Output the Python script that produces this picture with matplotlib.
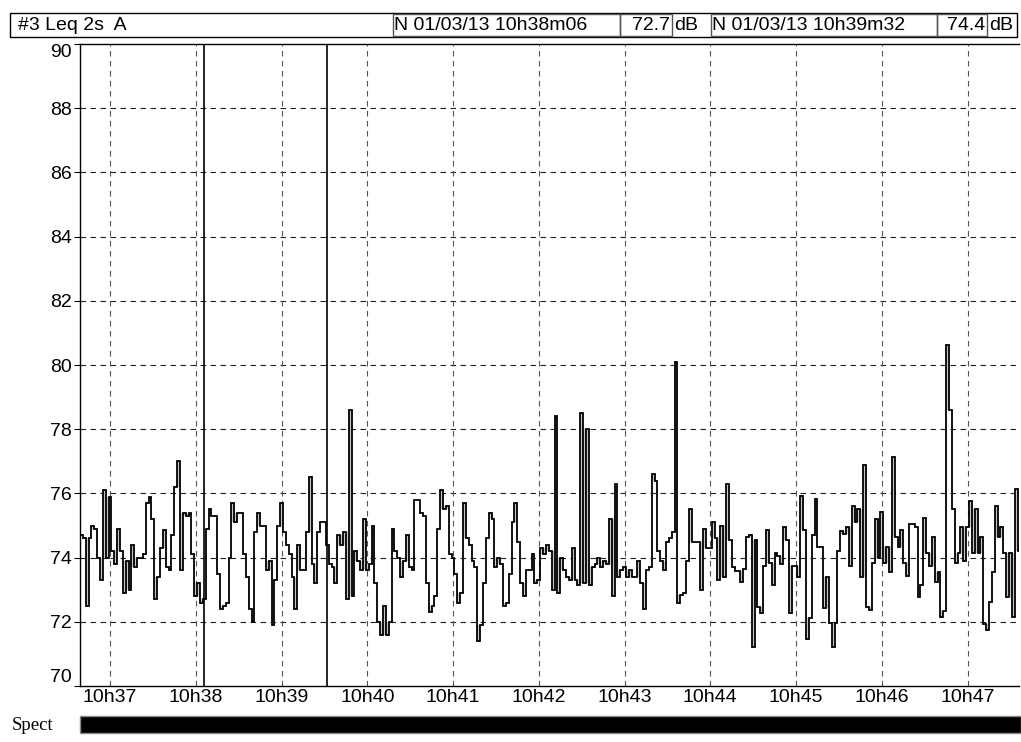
import matplotlib
matplotlib.use("Agg")
import matplotlib.pyplot as plt
from matplotlib.patches import Rectangle
import numpy as np

# Leq 2s A values in dB, one every 2 s in six stretches
leq_part1 = [74.7, 74.6, 72.5, 74.6, 75.0, 74.9, 74.0, 73.3, 76.1, 74.0,
             75.9, 74.2, 73.8, 74.9, 74.2, 72.9, 73.9, 73.0, 74.4, 73.7,
             74.0, 74.0, 74.1, 75.7, 75.9, 75.2, 72.7, 73.4, 74.3, 74.85,
             73.7, 73.6, 74.7, 76.2, 77.0, 73.6, 75.4, 75.3, 75.4, 74.1,
             72.8, 73.2, 72.6, 72.7, 74.9, 75.5, 75.3, 75.3, 73.5, 72.4,
             72.5, 72.6, 74.0, 75.7, 75.1, 75.4]
leq_part2 = [75.4, 74.1, 73.4, 72.4, 72.0, 74.8, 75.4, 75.0, 75.0, 73.6,
             73.9, 71.9, 73.3, 75.0, 75.7, 74.8, 74.4, 74.1, 73.4, 72.4,
             74.4, 73.6, 73.6, 74.8, 76.5, 73.8, 73.2, 74.8, 75.1, 75.1,
             74.4, 73.8, 73.7, 73.2, 74.7, 74.4, 74.8, 72.7, 78.6, 72.8,
             74.2, 73.9, 73.6, 75.2, 73.6, 73.8, 75.0, 73.2, 72.0, 71.6,
             72.5, 71.6, 72.0, 74.9, 74.2, 74.0]
leq_part3 = [73.4, 73.9, 74.7, 73.7, 73.6, 75.8, 75.8, 75.4, 75.3, 73.2,
             72.3, 72.5, 72.8, 74.9, 76.1, 75.5, 75.6, 74.1, 74.0, 73.5,
             72.6, 72.9, 75.7, 74.6, 74.4, 73.9, 73.7, 71.4, 71.9, 73.2,
             74.6, 75.4, 75.2, 73.7, 74.0, 73.8, 72.5, 72.6, 73.5, 75.1,
             75.7, 74.5, 73.2, 72.8, 73.6, 73.6, 74.1, 73.2, 73.3, 74.3,
             74.1, 74.4, 74.2, 73.0]
leq_part4 = [78.4, 72.9, 74.0, 73.6, 73.4, 73.3, 74.3, 73.3, 73.15, 78.5,
             73.2, 78.0, 73.15, 73.7, 73.8, 74.0, 73.7, 73.9, 73.8, 75.2,
             72.8, 76.3, 73.4, 73.6, 73.7, 73.4, 73.6, 73.4, 73.4, 73.9,
             73.2, 72.4, 73.6, 73.7, 76.6, 76.4, 74.2, 73.9, 73.6, 74.5,
             74.6, 74.8, 80.1, 72.6, 72.85, 72.9, 73.9, 75.5, 74.5, 74.5,
             74.5, 73.0, 74.9, 74.3, 74.3, 75.1, 74.6]
leq_part5 = [73.3, 75.0, 73.4, 76.3, 74.55, 73.7, 73.57, 73.57, 73.24, 73.65,
             74.63, 74.7, 71.23, 74.55, 72.46, 72.26, 73.73, 74.85, 73.82, 73.15,
             74.13, 74.04, 73.8, 74.94, 74.55, 72.26, 73.75, 73.73, 73.41, 75.92,
             74.85, 71.45, 72.12, 74.7, 75.84, 74.32, 74.32, 72.43, 73.41, 71.97,
             71.23, 71.97, 74.22, 74.84, 74.73, 74.94, 73.73, 75.6, 75.11, 75.5,
             73.41, 76.9, 72.46, 72.36, 73.82, 75.2, 74.0]
leq_part6 = [75.43, 73.83, 74.32, 73.56, 77.12, 74.63, 74.32, 74.86, 73.83, 73.42,
             75.05, 75.05, 74.94, 72.77, 73.15, 75.22, 74.15, 73.73, 74.63, 73.23,
             73.54, 72.15, 72.35, 80.62, 78.6, 75.51, 73.83, 74.15, 74.94, 73.9,
             74.94, 75.75, 74.15, 75.51, 74.15, 74.63, 71.94, 71.73, 72.61, 73.56,
             75.62, 74.63, 74.94, 74.15, 72.77, 74.15, 72.15, 76.13, 74.2]

leq = np.array(leq_part1 + leq_part2 + leq_part3 + leq_part4 + leq_part5 + leq_part6)

# time in seconds after 10h00
start_s = 36 * 60 + 39
step_s = 2
end_s = 47 * 60 + 36
minutes = list(range(37, 48))
minute_labels = ["10h%d" % m for m in minutes]
y_ticks = list(range(70, 91, 2))
cursor_times = [38 * 60 + 6, 39 * 60 + 32]
cursor_texts = ["N 01/03/13 10h38m06", "N 01/03/13 10h39m32"]
cursor_values = ["72.7", "74.4"]

plt.rcParams['font.family'] = ['Liberation Sans Narrow', 'Liberation Sans', 'DejaVu Sans']

W, H = 1021, 742
fig = plt.figure(figsize=(W / 100, H / 100), dpi=100)


def fx(x):
    return x / W


def fy(y):
    return 1 - y / H


ax = fig.add_axes([fx(80), fy(686), fx(1019) - fx(80), fy(44) - fy(686)])

edges = start_s + step_s * np.arange(len(leq) + 1)

# single-sample spikes show up filled grey in the original
prev_v = np.r_[leq[0], leq[:-1]]
next_v = np.r_[leq[1:], leq[-1]]
peak = (leq > prev_v) & (leq > next_v)
dip = (leq < prev_v) & (leq < next_v)
lo = np.where(peak, np.maximum(prev_v, next_v), leq)
hi = np.where(dip, np.minimum(prev_v, next_v), leq)
sel = peak | dip
ax.bar(edges[:-1][sel], (hi - lo)[sel], bottom=lo[sel], width=step_s,
       align='edge', color='#c8c8c8', linewidth=0, zorder=2)

ax.stairs(leq, edges, color='black', linewidth=1.3, baseline=None, zorder=3)

for t in cursor_times:
    ax.axvline(t, color='black', linewidth=1.2, zorder=4)

ax.set_xlim(start_s, end_s)
ax.set_ylim(70, 90)
ax.set_yticks(y_ticks)
ax.set_xticks([m * 60 for m in minutes])
ax.set_xticklabels(minute_labels)
ax.tick_params(axis='x', length=0, pad=2, labelsize=14)
ax.tick_params(axis='y', length=4, width=0.8, pad=2, labelsize=14)
ylabels = ax.get_yticklabels()
ylabels[0].set_verticalalignment('bottom')
ylabels[-1].set_verticalalignment('top')

for y in y_ticks[1:-1]:
    ax.axhline(y, color='#222222', linewidth=0.8, linestyle=(0, (5, 4)), zorder=1)
for m in minutes:
    ax.axvline(m * 60, color='#555555', linewidth=0.8, linestyle=(0, (5, 4)), zorder=1)

ax.spines['right'].set_visible(False)
for s in ['left', 'bottom', 'top']:
    ax.spines[s].set_linewidth(1.0)

# header bar with the cursor readouts
fig.patches.append(Rectangle((fx(10), fy(37)), fx(1017) - fx(10), fy(13) - fy(37),
                             transform=fig.transFigure, fill=False,
                             edgecolor='black', linewidth=1.0))
fig.text(fx(18), fy(25), "#3 Leq 2s  A", fontsize=14, va='center', ha='left')
box_x = [(393, 620, 672), (711, 937, 987)]
for (x0, x1, x2), txt, val in zip(box_x, cursor_texts, cursor_values):
    fig.patches.append(Rectangle((fx(x0), fy(36)), fx(x1) - fx(x0), fy(14) - fy(36),
                                 transform=fig.transFigure, fill=False,
                                 edgecolor='#555555', linewidth=1.0))
    fig.patches.append(Rectangle((fx(x1), fy(36)), fx(x2) - fx(x1), fy(14) - fy(36),
                                 transform=fig.transFigure, fill=False,
                                 edgecolor='#555555', linewidth=1.0))
    fig.text(fx(x0 + 1), fy(25), txt, fontsize=14, va='center', ha='left')
    fig.text(fx(x2 - 2), fy(25), val, fontsize=14, va='center', ha='right')
    fig.text(fx(x2 + 2), fy(25), "dB", fontsize=14, va='center', ha='left')

# spectrum strip at the bottom
fig.patches.append(Rectangle((fx(80), fy(733)), fx(1021) - fx(80), fy(716) - fy(733),
                             transform=fig.transFigure, facecolor='black',
                             edgecolor='#888888', linewidth=1.0))
fig.text(fx(12), fy(725), "Spect", fontsize=13.5, va='center', ha='left',
         family=['Liberation Serif', 'DejaVu Serif'])

fig.savefig("out.png", dpi=100)
